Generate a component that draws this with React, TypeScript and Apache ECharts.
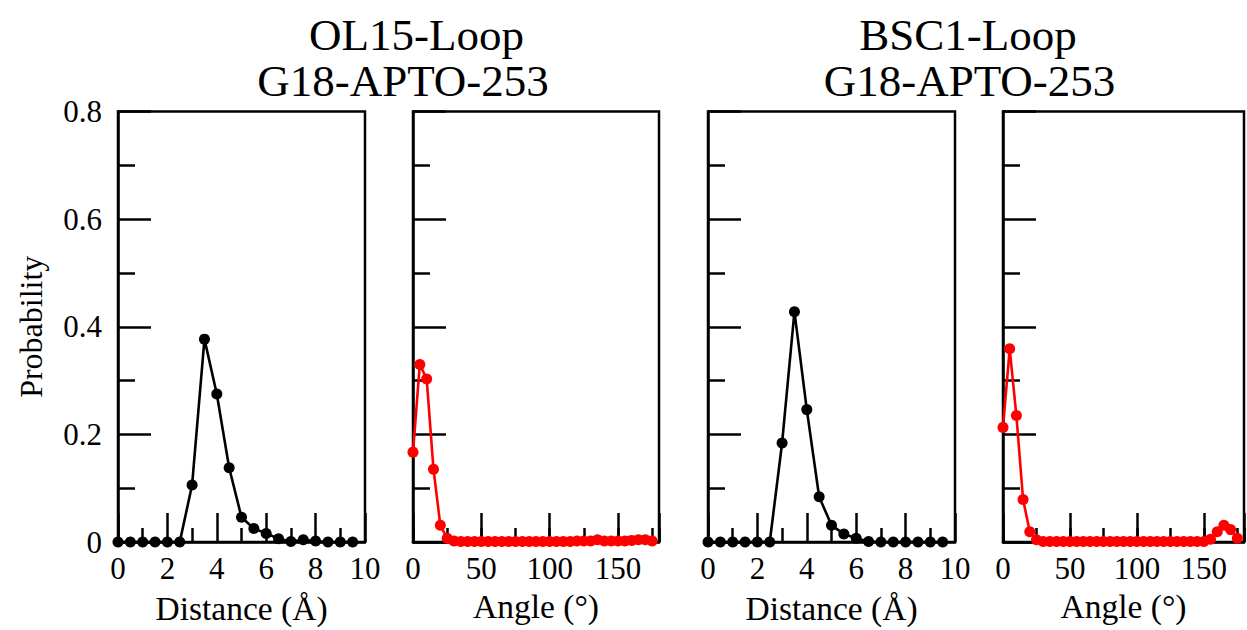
import React, { useEffect, useRef } from "react";
import * as echarts from "echarts";

const distanceX = [0, 0.5, 1, 1.5, 2, 2.5, 3, 3.5, 4, 4.5, 5, 5.5, 6, 6.5, 7, 7.5, 8, 8.5, 9, 9.5];
const angleX = [0, 5, 10, 15, 20, 25, 30, 35, 40, 45, 50, 55, 60, 65, 70, 75, 80, 85, 90, 95, 100, 105, 110, 115, 120, 125, 130, 135, 140, 145, 150, 155, 160, 165, 170, 175];

const ol15Distance = [0, 0, 0, 0, 0, 0, 0.106, 0.377, 0.275, 0.138, 0.046, 0.025, 0.016, 0.006, 0.001, 0.004, 0.002, 0, 0, 0];
const bsc1Distance = [0, 0, 0, 0, 0, 0, 0.184, 0.428, 0.246, 0.084, 0.031, 0.015, 0.007, 0.001, 0, 0, 0, 0, 0, 0];
const ol15Angle = [0.167, 0.33, 0.303, 0.135, 0.031, 0.007, 0.002, 0.001, 0.001, 0.001, 0.001, 0.001, 0.001, 0.001, 0.001, 0.001, 0.001, 0.001, 0.001, 0.001, 0.001, 0.001, 0.001, 0.001, 0.002, 0.002, 0.002, 0.004, 0.002, 0.002, 0.002, 0.002, 0.003, 0.004, 0.004, 0.002];
const bsc1Angle = [0.213, 0.359, 0.235, 0.079, 0.019, 0.004, 0.001, 0.001, 0.001, 0.001, 0.001, 0.001, 0.001, 0.001, 0.001, 0.001, 0.001, 0.001, 0.001, 0.001, 0.001, 0.001, 0.001, 0.001, 0.001, 0.001, 0.001, 0.001, 0.001, 0.001, 0.001, 0.005, 0.019, 0.031, 0.023, 0.007];

const titles = [
  { text: "OL15-Loop", x: 416.5, y: 34.5 },
  { text: "G18-APTO-253", x: 403, y: 81 },
  { text: "BSC1-Loop", x: 968, y: 34.5 },
  { text: "G18-APTO-253", x: 969.5, y: 81 },
];

const FONT = "Liberation Serif";

export default function App() {
  const ref = useRef<HTMLDivElement>(null);
  useEffect(() => {
    if (!ref.current) return;
    const chart = echarts.init(ref.current, null, { renderer: "svg" });

    const grids = [
      { left: 118, top: 111.5, width: 247, height: 430.5 },
      { left: 413, top: 111.5, width: 246, height: 430.5 },
      { left: 708, top: 111.5, width: 247, height: 430.5 },
      { left: 1003, top: 111.5, width: 246, height: 430.5 },
    ].map((g) => ({ ...g, show: true, borderColor: "#000", borderWidth: 2.5, backgroundColor: "transparent", containLabel: false }));

    const axisLine = { show: true, onZero: false, lineStyle: { color: "#000", width: 2.5 } };
    const tickLine = { color: "#000", width: 2.5 };
    const labelStyle = { color: "#000", fontFamily: FONT, fontSize: 31 };
    const nameStyle = { color: "#000", fontFamily: FONT, fontSize: 33.5 };

    const distAxis = (gridIndex: number) => ({
      type: "value",
      gridIndex,
      position: "bottom",
      min: 0,
      max: 10,
      interval: 2,
      axisLine,
      axisTick: { show: true, inside: true, length: 29, lineStyle: tickLine },
      minorTick: { show: true, splitNumber: 2, length: 14, lineStyle: tickLine },
      axisLabel: { ...labelStyle, margin: 11 },
      splitLine: { show: false },
      minorSplitLine: { show: false },
      name: "Distance (Å)",
      nameLocation: "middle",
      nameGap: 49,
      nameTextStyle: nameStyle,
    });
    const angleAxis = (gridIndex: number) => ({
      type: "value",
      gridIndex,
      position: "bottom",
      min: 0,
      max: 180,
      interval: 50,
      axisLine,
      axisTick: { show: true, inside: true, length: 29, lineStyle: tickLine },
      axisLabel: { ...labelStyle, margin: 11, formatter: (v: number) => (v % 50 === 0 ? String(v) : "") },
      splitLine: { show: false },
      name: "Angle (°)",
      nameLocation: "middle",
      nameGap: 47,
      nameTextStyle: nameStyle,
    });
    const angleMinorAxis = (gridIndex: number) => ({
      type: "value",
      gridIndex,
      position: "bottom",
      min: 0,
      max: 180,
      interval: 25,
      axisLine: { show: false },
      axisTick: { show: true, inside: true, length: 14, lineStyle: tickLine },
      axisLabel: { show: false },
      splitLine: { show: false },
    });
    const probAxis = (gridIndex: number, withLabels: boolean) => ({
      type: "value",
      gridIndex,
      position: "left",
      min: 0,
      max: 0.8,
      interval: 0.2,
      axisLine,
      axisTick: { show: true, inside: true, length: 33, lineStyle: tickLine },
      minorTick: { show: true, splitNumber: 2, length: 17, lineStyle: tickLine },
      axisLabel: withLabels
        ? { ...labelStyle, margin: 16, formatter: (v: number) => (v === 0 ? "0" : v.toFixed(1)) }
        : { show: false },
      splitLine: { show: false },
      minorSplitLine: { show: false },
      name: withLabels ? "Probability" : "",
      nameLocation: "middle",
      nameGap: 71,
      nameTextStyle: { ...nameStyle, fontSize: 32 },
    });

    const mk = (xs: number[], ys: number[]) => xs.map((x, i) => [x, ys[i]]);
    const lineSeries = (name: string, xIdx: number, yIdx: number, data: number[][], color: string) => ({
      name,
      type: "line",
      xAxisIndex: xIdx,
      yAxisIndex: yIdx,
      data,
      symbol: "circle",
      symbolSize: 11,
      showSymbol: true,
      clip: false,
      lineStyle: { color, width: 2.6 },
      itemStyle: { color },
      z: 5,
    });

    chart.setOption({
      animation: false,
      backgroundColor: "#fff",
      textStyle: { fontFamily: FONT },
      grid: grids,
      xAxis: [distAxis(0), angleAxis(1), angleMinorAxis(1), distAxis(2), angleAxis(3), angleMinorAxis(3)],
      yAxis: [probAxis(0, true), probAxis(1, false), probAxis(2, false), probAxis(3, false)],
      series: [
        lineSeries("OL15-Loop distance", 0, 0, mk(distanceX, ol15Distance), "#000"),
        lineSeries("OL15-Loop angle", 1, 1, mk(angleX, ol15Angle), "#ff0000"),
        lineSeries("BSC1-Loop distance", 3, 2, mk(distanceX, bsc1Distance), "#000"),
        lineSeries("BSC1-Loop angle", 4, 3, mk(angleX, bsc1Angle), "#ff0000"),
      ],
      graphic: titles.map((t) => ({
        type: "text",
        x: t.x,
        y: t.y,
        style: {
          text: t.text,
          fill: "#000",
          fontFamily: FONT,
          fontSize: 45,
          align: "center",
          verticalAlign: "middle",
        },
      })),
    });
    return () => chart.dispose();
  }, []);
  return <div ref={ref} style={{ position: "fixed", left: 0, top: 0, width: 1247, height: 630, background: "#fff" }} />;
}
